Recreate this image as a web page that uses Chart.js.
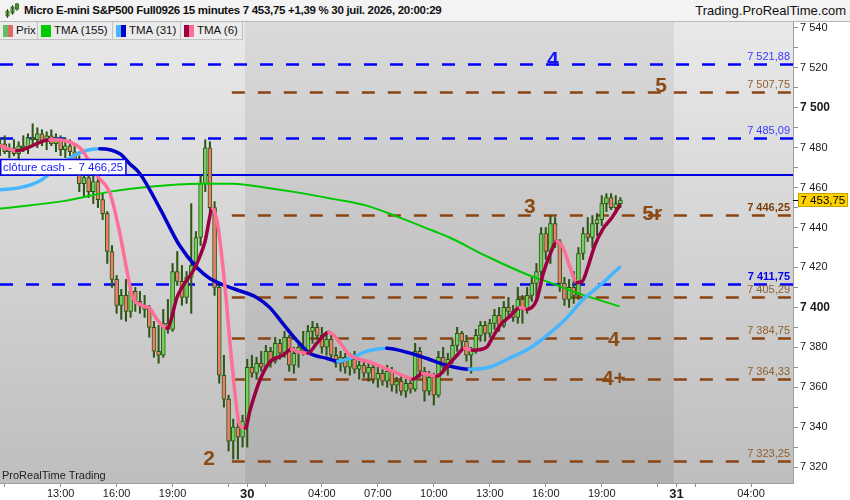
<!DOCTYPE html>
<html>
<head>
<meta charset="utf-8">
<title>Micro E-mini S&amp;P500 Full0926 15 minutes</title>
<script src="https://cdn.jsdelivr.net/npm/chart.js@4.4.1/dist/chart.umd.min.js"></script>
<style>
  html, body { margin: 0; padding: 0; width: 850px; height: 500px; overflow: hidden; background: #fff;
    font-family: "Liberation Sans", Arial, sans-serif; }
  #top { position: absolute; left: 0; top: 0; width: 850px; height: 22px; background: #f3f3f3;
    border-bottom: 1px solid #b8b8b8; box-sizing: border-box; }
  #ico { position: absolute; left: 5px; top: 3px; width: 14px; height: 16px; }
  #title { position: absolute; left: 24px; top: 4px; font-weight: bold; font-size: 11.5px; color: #111;
    letter-spacing: -0.3px; white-space: nowrap; }
  #site { position: absolute; right: 4px; top: 3px; font-size: 13px; color: #111; white-space: nowrap; }
  #wrap { position: absolute; left: 0; top: 22px; width: 850px; height: 478px; }
  #legend { position: absolute; left: 0; top: 22px; height: 18px; display: flex; z-index: 2; }
  .item { position: relative; height: 18px; box-sizing: border-box; background: #ebebeb;
    border-right: 1px solid #c2c2c2; border-bottom: 1px solid #c2c2c2; font-size: 11.5px; color: #111;
    line-height: 17px; padding-left: 16px; padding-right: 5px; white-space: nowrap; }
  .item .sw { position: absolute; left: 3px; top: 3px; width: 10px; height: 12px; display: flex; }
  .item .sw i { flex: 1; }
</style>
</head>
<body>
<div id="top">
  <svg id="ico" viewBox="0 0 14 16">
    <rect x="1" y="8" width="3" height="5" fill="#6fcf5a" stroke="#2d5514" stroke-width="0.8"/>
    <line x1="2.5" y1="6" x2="2.5" y2="15" stroke="#2d5514"/>
    <rect x="6" y="4" width="3" height="6" fill="#6fcf5a" stroke="#2d5514" stroke-width="0.8"/>
    <line x1="7.5" y1="2" x2="7.5" y2="12" stroke="#2d5514"/>
    <rect x="10.5" y="1" width="3" height="5" fill="#6fcf5a" stroke="#2d5514" stroke-width="0.8"/>
    <line x1="12" y1="0" x2="12" y2="8" stroke="#2d5514"/>
  </svg>
  <span id="title">Micro E-mini S&amp;P500 Full0926 15 minutes 7 453,75 +1,39 % 30 juil. 2026, 20:00:29</span>
  <span id="site">Trading.ProRealTime.com</span>
</div>
<div id="legend">
  <div class="item" style="width:38px"><span class="sw"><i style="background:#62c062"></i><i style="background:#e06868"></i></span>Prix</div>
  <div class="item" style="width:75px"><span class="sw"><i style="background:#00cc00"></i></span>TMA (155)</div>
  <div class="item" style="width:68px"><span class="sw"><i style="background:#45b6ff"></i><i style="background:#0000c8"></i></span>TMA (31)</div>
  <div class="item" style="width:62px"><span class="sw"><i style="background:#9c0040"></i><i style="background:#ff6e98"></i></span>TMA (6)</div>
</div>
<div id="wrap"><canvas id="priceChart"></canvas></div>
<script>
// 15 minute bars, index 0 = 29 juil. 09:45, index 53 = 30 juil. 00:00
const opens = [
  7480, 7482, 7478, 7480, 7477, 7481, 7480, 7485, 7484, 7487, 7483, 7486, 7482, 7484, 7479, 7481, 7478, 7474, 7462, 7465,
  7458, 7463, 7454, 7447, 7428, 7414, 7401, 7406, 7398, 7408, 7403, 7401, 7399, 7390, 7378, 7376, 7392, 7389, 7418, 7413,
  7405, 7415, 7421, 7435, 7462, 7480, 7450, 7410, 7366, 7354, 7333, 7340, 7335, 7343, 7370, 7367, 7372, 7370, 7378, 7373,
  7382, 7377, 7385, 7371, 7377, 7380, 7378, 7388, 7390, 7386, 7380, 7384, 7376, 7372, 7375, 7370, 7374, 7369, 7371, 7367,
  7370, 7364, 7367, 7363, 7368, 7361, 7363, 7358, 7362, 7359, 7378, 7368, 7358, 7365, 7356, 7375, 7370, 7374, 7381, 7387,
  7383, 7376, 7378, 7386, 7391, 7387, 7392, 7396, 7391, 7400, 7398, 7395, 7404, 7399, 7406, 7412, 7418, 7437, 7428, 7442,
  7433, 7412, 7404, 7410, 7406, 7427, 7437, 7435, 7442, 7444, 7452, 7455, 7450, 7452
];
const highs = [
  7485, 7486, 7482, 7484, 7483, 7486, 7487, 7492, 7490, 7489, 7488, 7489, 7487, 7486, 7485, 7484, 7482, 7476, 7468, 7467,
  7466, 7465, 7457, 7448, 7431, 7416, 7409, 7414, 7411, 7410, 7408, 7406, 7401, 7393, 7391, 7399, 7404, 7422, 7428, 7421,
  7418, 7452, 7438, 7466, 7484, 7483, 7453, 7412, 7376, 7356, 7344, 7345, 7346, 7374, 7376, 7375, 7378, 7381, 7380, 7385,
  7384, 7388, 7386, 7380, 7382, 7388, 7391, 7393, 7392, 7390, 7388, 7386, 7380, 7378, 7377, 7377, 7378, 7373, 7374, 7372,
  7371, 7370, 7369, 7371, 7370, 7365, 7366, 7364, 7365, 7382, 7380, 7370, 7368, 7367, 7378, 7380, 7377, 7384, 7390, 7388,
  7386, 7380, 7389, 7393, 7393, 7394, 7399, 7400, 7403, 7405, 7401, 7410, 7406, 7410, 7415, 7422, 7440, 7440, 7446, 7445,
  7434, 7415, 7414, 7418, 7430, 7440, 7445, 7446, 7447, 7456, 7457, 7457, 7456, 7455
];
const lows = [
  7476, 7477, 7475, 7476, 7474, 7478, 7477, 7482, 7480, 7481, 7479, 7481, 7478, 7476, 7475, 7476, 7472, 7458, 7456, 7455,
  7452, 7450, 7444, 7422, 7410, 7397, 7394, 7393, 7395, 7398, 7397, 7395, 7385, 7375, 7372, 7375, 7387, 7388, 7411, 7401,
  7402, 7397, 7419, 7431, 7458, 7447, 7406, 7362, 7350, 7328, 7324, 7324, 7330, 7330, 7365, 7364, 7368, 7369, 7370, 7372,
  7374, 7375, 7368, 7367, 7370, 7376, 7377, 7382, 7384, 7377, 7376, 7374, 7370, 7368, 7367, 7366, 7367, 7364, 7365, 7363,
  7362, 7360, 7361, 7360, 7358, 7357, 7356, 7355, 7357, 7358, 7365, 7353, 7356, 7351, 7355, 7367, 7366, 7372, 7378, 7379,
  7373, 7367, 7377, 7383, 7383, 7385, 7389, 7388, 7390, 7396, 7393, 7392, 7392, 7397, 7403, 7404, 7411, 7424, 7422, 7430,
  7408, 7401, 7400, 7402, 7404, 7424, 7433, 7430, 7436, 7441, 7448, 7449, 7447, 7450
];
const closes = [
  7482, 7478, 7480, 7477, 7481, 7480, 7485, 7484, 7487, 7483, 7486, 7482, 7484, 7479, 7481, 7478, 7474, 7462, 7465, 7458,
  7463, 7454, 7447, 7428, 7414, 7401, 7406, 7398, 7408, 7403, 7401, 7399, 7390, 7378, 7376, 7392, 7389, 7418, 7413, 7405,
  7415, 7421, 7435, 7462, 7480, 7450, 7410, 7366, 7354, 7333, 7340, 7335, 7343, 7370, 7367, 7372, 7370, 7378, 7373, 7382,
  7377, 7385, 7371, 7377, 7380, 7378, 7388, 7390, 7386, 7380, 7384, 7376, 7372, 7375, 7370, 7374, 7369, 7371, 7367, 7370,
  7364, 7367, 7363, 7368, 7361, 7363, 7358, 7362, 7359, 7378, 7368, 7358, 7365, 7356, 7375, 7370, 7374, 7381, 7387, 7383,
  7376, 7378, 7386, 7391, 7387, 7392, 7396, 7391, 7400, 7398, 7395, 7404, 7399, 7406, 7412, 7418, 7437, 7428, 7442, 7433,
  7412, 7404, 7410, 7406, 7427, 7437, 7435, 7442, 7444, 7452, 7455, 7450, 7452, 7453.75
];

// moving averages (bar index, price)
const tma155Bars = [0, 14.3, 23.6, 32, 42.8, 50, 57, 64, 71, 78.6, 85.7, 92.7, 96.4, 104, 113.5, 117.8, 124, 132.8];
const tma155Values = [7449.5, 7453.5, 7458, 7460.5, 7462, 7462, 7460, 7457.5, 7454.5, 7451, 7445, 7438.5, 7435, 7426, 7416, 7412.5, 7407, 7400.5];

const tma31Bars = [0, 4.3, 8.6, 12.8, 17.1, 21.4, 25.7, 27.8, 30, 34.3, 38.5, 42.2, 45, 49.9, 55, 57.8, 60.6, 63.6,
  66.4, 70, 72.4, 75.6, 78.6, 82.9, 87.2, 91.4, 95.7, 100.6, 104.9, 109.2, 113.5, 117.8, 121.4, 124.8, 129.1, 132.8];
const tma31Values = [7459, 7460, 7463.5, 7471, 7477.5, 7479.5, 7477, 7472, 7467, 7449.5, 7431, 7420, 7414.5, 7409.5, 7405, 7400, 7392, 7383.5,
  7377, 7374.5, 7373, 7375, 7378, 7379.5, 7377.5, 7374.5, 7371, 7369, 7370, 7374.5, 7379.5, 7387, 7394.5, 7403.5, 7412, 7420];

const tma6Bars = [0, 3.6, 10.7, 17.1, 20.8, 23.6, 25.7, 27.4, 28.3, 30.4, 32.1, 33.8, 35.8, 38.1, 41.8, 43.9, 45.6, 46.7,
  48.2, 49.7, 51.4, 52.6, 53.6, 55.7, 57.8, 60.6, 62.5, 64.2, 66, 67.9, 70.5, 72.8, 75, 77.1, 79.3, 82, 84.2, 87.2, 88.5,
  90.6, 93.6, 96.4, 97.8, 99.6, 101.3, 104.3, 105.6, 107.2, 109.3, 111.5, 113, 115.1, 116.4, 117.9, 119.4, 120.7, 122.2,
  123.7, 124.8, 126, 127.5, 129.3, 131.2, 132.8];
const tma6Values = [7481, 7478.5, 7484, 7480, 7466, 7457, 7437, 7416, 7406, 7401, 7399.5, 7393.5, 7389.5, 7406, 7420, 7432.5, 7449.5, 7441,
  7411, 7372.5, 7341, 7339.5, 7348.5, 7363.5, 7372.5, 7376, 7379, 7377.5, 7377, 7382, 7387.5, 7382.5, 7376, 7374, 7372.5, 7370, 7368, 7365, 7364,
  7367, 7365.5, 7372, 7375.5, 7379.5, 7378.5, 7380, 7385, 7391, 7395.5, 7400, 7399, 7404, 7416.5, 7426.5, 7433, 7430, 7420,
  7412.5, 7413, 7420, 7431, 7439.5, 7445, 7451];

// axis ticks
const xTickBars = [1, 13, 25, 37, 49, 53, 57, 69, 81, 93, 105, 117, 129, 141, 145, 149, 161];
const xTickLabels = ['', '13:00', '16:00', '19:00', '', '30', '', '04:00', '07:00', '10:00', '13:00', '16:00', '19:00', '', '31', '', '04:00'];
const dayLabels = ['30', '31'];
const dayBreaks = [52.5, 144.5];
const yTicks = [7320, 7340, 7360, 7380, 7400, 7420, 7440, 7460, 7480, 7500, 7520, 7540];

// drawn levels
const blueLevels = [7521.88, 7485.09, 7411.75];
const brownLevels = [7507.75, 7446.25, 7405.29, 7384.75, 7364.33, 7323.25];
const boldLevels = [7411.75, 7446.25];
const brownFromBar = 49.7;
const cashClose = 7466.25;
const lastPrice = 7453.75;

const waveTexts = ['4', '5', '3', '5r', '4', '4+', '2'];
const waveBars = [118.5, 141.7, 113.6, 139.8, 131.6, 131.6, 44.8];
const wavePrices = [7524.2, 7511.4, 7450.5, 7447.3, 7383.9, 7364.4, 7324.3];
const waveGroups = ['blue', 'brown', 'brown', 'brown', 'brown', 'brown', 'brown'];

const FONT = '"Liberation Sans", Arial, sans-serif';
const BLUE = '#0000ff';
const BROWN = '#8b4513';
const WICK = '#2d5514';
const UP = '#6fd35a';
const DOWN = '#e8806a';

function fmtPrice(v, dec) {
  const parts = v.toFixed(dec).split('.');
  const ip = parts[0].replace(/\B(?=(\d{3})+(?!\d))/g, ' ');
  return parts[1] ? ip + ',' + parts[1] : ip;
}

function points(bars, values) {
  return bars.map((b, k) => ({ x: b, y: values[k] }));
}

// keep the plot area flush with the canvas edges
function noPadding(s) {
  s.paddingTop = 0; s.paddingBottom = 0; s.paddingLeft = 0; s.paddingRight = 0;
}

const barIdx = closes.map((c, i) => i);

const backdrop = {
  id: 'backdrop',
  beforeDraw(chart) {
    const { ctx, chartArea: a } = chart;
    const x = chart.scales.x;
    const edges = [a.left].concat(dayBreaks.map(b => x.getPixelForValue(b)), [a.right]);
    for (let k = 0; k < edges.length - 1; k++) {
      const dark = k % 2 === 1;
      const g = ctx.createLinearGradient(0, a.top, 0, a.bottom);
      g.addColorStop(0, dark ? '#dadada' : '#e9e9e9');
      g.addColorStop(1, dark ? '#afafaf' : '#bebebe');
      ctx.fillStyle = g;
      ctx.fillRect(edges[k], a.top, edges[k + 1] - edges[k], a.bottom - a.top);
    }
  }
};

const levels = {
  id: 'levels',
  beforeDatasetsDraw(chart) {
    const { ctx, chartArea: a } = chart;
    const x = chart.scales.x, y = chart.scales.y;
    ctx.save();
    ctx.beginPath();
    ctx.rect(a.left, a.top, a.right - a.left, a.bottom - a.top);
    ctx.clip();
    ctx.lineWidth = 2.5;
    ctx.setLineDash([13, 13]);
    ctx.strokeStyle = BLUE;
    blueLevels.forEach(v => {
      const py = Math.round(y.getPixelForValue(v)) + 0.5;
      ctx.beginPath(); ctx.moveTo(a.left, py); ctx.lineTo(a.right, py); ctx.stroke();
    });
    ctx.strokeStyle = BROWN;
    const bx = x.getPixelForValue(brownFromBar);
    brownLevels.forEach(v => {
      const py = Math.round(y.getPixelForValue(v)) + 0.5;
      ctx.beginPath(); ctx.moveTo(bx, py); ctx.lineTo(a.right, py); ctx.stroke();
    });
    ctx.setLineDash([]);
    ctx.lineWidth = 2;
    ctx.strokeStyle = '#0000e0';
    const cy = Math.round(y.getPixelForValue(cashClose));
    ctx.beginPath(); ctx.moveTo(a.left, cy); ctx.lineTo(a.right, cy); ctx.stroke();
    ctx.restore();
  },
  afterDatasetsDraw(chart) {
    const { ctx, chartArea: a } = chart;
    const x = chart.scales.x, y = chart.scales.y;
    ctx.save();
    ctx.textAlign = 'right';
    ctx.textBaseline = 'alphabetic';
    const drawLabel = (v, color) => {
      const bold = boldLevels.includes(v);
      ctx.font = (bold ? 'bold ' : '') + '11px ' + FONT;
      ctx.fillStyle = color;
      ctx.fillText(fmtPrice(v, 2), a.right - 3, y.getPixelForValue(v) - 4);
    };
    blueLevels.forEach(v => drawLabel(v, boldLevels.includes(v) ? '#0000ee' : '#3a3aff'));
    brownLevels.forEach(v => drawLabel(v, boldLevels.includes(v) ? '#7a3f0c' : '#8f6030'));

    // wave counts
    ctx.textAlign = 'center';
    ctx.textBaseline = 'middle';
    ctx.font = 'bold 21px ' + FONT;
    waveTexts.forEach((t, k) => {
      ctx.fillStyle = waveGroups[k] === 'blue' ? '#1414ff' : '#8b4a14';
      ctx.fillText(t, x.getPixelForValue(waveBars[k]), y.getPixelForValue(wavePrices[k]) + 1);
    });

    // cash close box
    const cy = Math.round(y.getPixelForValue(cashClose));
    ctx.font = '11.5px ' + FONT;
    const txt = 'clôture cash -  ' + fmtPrice(cashClose, 2);
    const w = ctx.measureText(txt).width + 6;
    ctx.fillStyle = '#ffffff';
    ctx.fillRect(a.left, cy - 16, w, 16);
    ctx.strokeStyle = '#0000e0';
    ctx.lineWidth = 1.5;
    ctx.strokeRect(a.left + 0.75, cy - 15.5, w - 1, 15.5);
    ctx.fillStyle = '#1a1aff';
    ctx.textAlign = 'left';
    ctx.fillText(txt, a.left + 3, cy - 7.5);

    // watermark
    ctx.font = '11px ' + FONT;
    ctx.fillStyle = '#222';
    ctx.fillText('ProRealTime Trading', a.left + 2, a.bottom - 7);
    ctx.restore();
  },
  afterDraw(chart) {
    const { ctx, chartArea: a } = chart;
    const y = chart.scales.y;
    const py = Math.round(y.getPixelForValue(lastPrice));
    ctx.save();
    ctx.strokeStyle = '#000';
    ctx.lineWidth = 1;
    ctx.beginPath(); ctx.moveTo(a.right, py + 0.5); ctx.lineTo(a.right + 5, py + 0.5); ctx.stroke();
    ctx.font = '11.5px ' + FONT;
    const label = fmtPrice(lastPrice, 2);
    const w = Math.ceil(ctx.measureText(label).width) + 5;
    ctx.fillStyle = '#ffd200';
    ctx.fillRect(a.right + 5, py - 7, w, 14);
    ctx.strokeStyle = '#c9a400';
    ctx.strokeRect(a.right + 5.5, py - 6.5, w - 1, 13);
    ctx.fillStyle = '#000';
    ctx.textAlign = 'left';
    ctx.textBaseline = 'middle';
    ctx.fillText(label, a.right + 7.5, py + 0.5);
    ctx.restore();
  }
};

const rising = (up, down) => ctx => ctx.p1.parsed.y >= ctx.p0.parsed.y ? up : down;

new Chart(document.getElementById('priceChart').getContext('2d'), {
  type: 'bar',
  data: {
    datasets: [
      {
        type: 'line', label: 'TMA (6)', data: points(tma6Bars, tma6Values),
        borderColor: '#9c0040', borderWidth: 3.5, pointRadius: 0, cubicInterpolationMode: 'monotone',
        borderCapStyle: 'round', borderJoinStyle: 'round',
        segment: { borderColor: rising('#9c0040', '#ff6e98') }
      },
      {
        type: 'line', label: 'TMA (31)', data: points(tma31Bars, tma31Values),
        borderColor: '#0000c8', borderWidth: 3.5, pointRadius: 0, cubicInterpolationMode: 'monotone',
        borderCapStyle: 'round', borderJoinStyle: 'round',
        segment: { borderColor: rising('#45b6ff', '#0000c8') }
      },
      {
        type: 'line', label: 'TMA (155)', data: points(tma155Bars, tma155Values),
        borderColor: '#00c800', borderWidth: 2, pointRadius: 0, cubicInterpolationMode: 'monotone'
      },
      {
        type: 'bar', label: 'Prix', data: barIdx.map(i => ({ x: i, y: [opens[i], closes[i]] })),
        backgroundColor: ctx => closes[ctx.dataIndex] >= opens[ctx.dataIndex] ? UP : DOWN,
        borderColor: WICK, borderWidth: 1, borderSkipped: false, barThickness: 4, grouped: false
      },
      {
        type: 'bar', label: 'wicks', data: barIdx.map(i => ({ x: i, y: [lows[i], highs[i]] })),
        backgroundColor: WICK, borderWidth: 0, barThickness: 1.4, grouped: false
      }
    ]
  },
  options: {
    responsive: true,
    maintainAspectRatio: false,
    animation: false,
    layout: { padding: 0 },
    plugins: { legend: { display: false }, tooltip: { enabled: false } },
    scales: {
      x: {
        type: 'linear', min: 0, max: 170, offset: false,
        afterBuildTicks: s => { s.ticks = xTickBars.map(v => ({ value: v })); },
        afterFit: s => { s.height = 17; noPadding(s); },
        grid: { drawOnChartArea: false, tickLength: 4, color: '#8a8a8a', offset: false },
        border: { display: true, color: '#a0a0a0' },
        ticks: {
          autoSkip: false, maxRotation: 0, padding: 0, color: '#1a1a1a',
          font: ctx => dayLabels.includes(xTickLabels[ctx.index])
            ? { family: FONT, size: 13, weight: 'bold' } : { family: FONT, size: 11 },
          callback: (v, i) => xTickLabels[i]
        }
      },
      y: {
        type: 'linear', position: 'right', min: 7312, max: 7543,
        afterBuildTicks: s => {
          const t = [];
          yTicks.forEach(v => { t.push({ value: v }); if (v + 10 < s.max) t.push({ value: v + 10 }); });
          s.ticks = t;
        },
        afterFit: s => { s.width = 57; noPadding(s); },
        grid: { drawOnChartArea: false, tickLength: 5, color: '#8a8a8a' },
        border: { display: true, color: '#a0a0a0' },
        ticks: {
          autoSkip: false, padding: 2, color: '#1a1a1a',
          font: ctx => ctx.tick && ctx.tick.value % 100 === 0
            ? { family: FONT, size: 12, weight: 'bold' } : { family: FONT, size: 11 },
          callback: v => yTicks.includes(v) ? fmtPrice(v, 0) : ''
        }
      }
    }
  },
  plugins: [backdrop, levels]
});
</script>
</body>
</html>
